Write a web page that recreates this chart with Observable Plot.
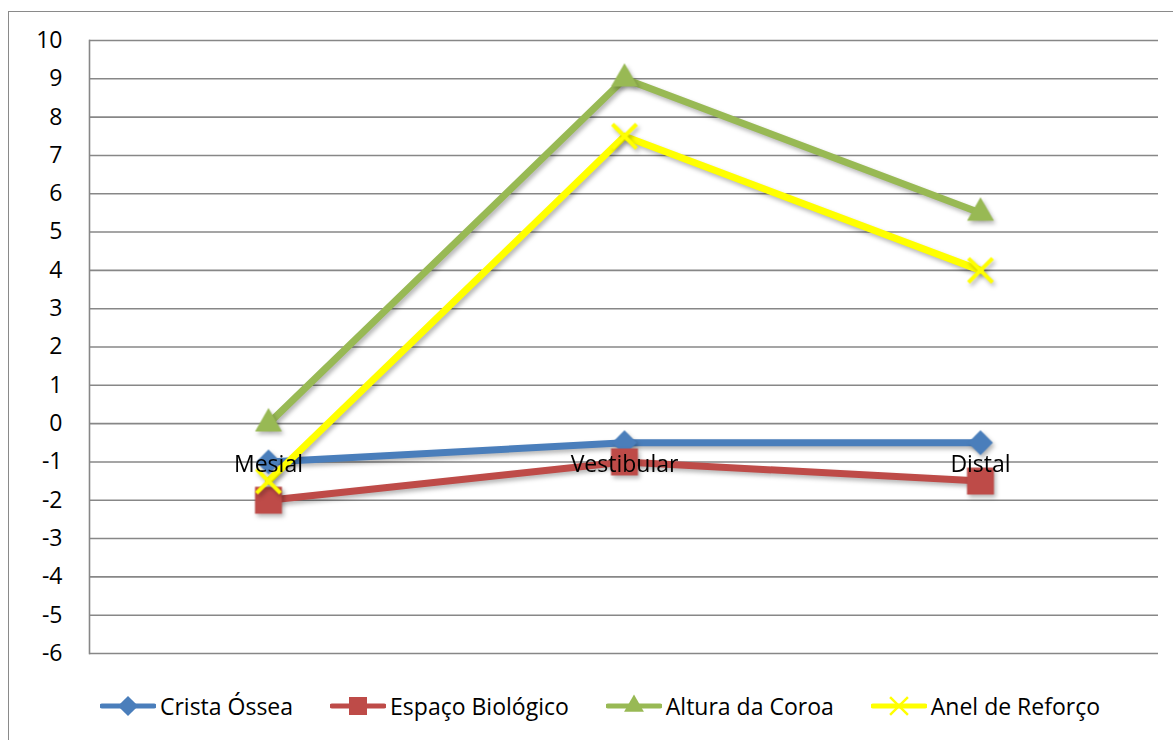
<!DOCTYPE html>
<html>
<head>
<meta charset="utf-8">
<script src="https://cdn.jsdelivr.net/npm/d3@7"></script>
<script src="https://cdn.jsdelivr.net/npm/@observablehq/plot@0.6"></script>
<style>
  body { margin: 0; background: #fff; }
  #chart { position: relative; width: 1173px; height: 740px; overflow: hidden; font-family: "Open Sans", sans-serif; }
  #border { position: absolute; left: 8px; top: 11px; width: 1400px; height: 1000px; border: 1.5px solid #8a8a8a; box-sizing: border-box; }
  #plot { position: absolute; left: 0; top: 0; }
  #legend { position: absolute; left: 0; top: 691px; width: 1200px; height: 30px; display: flex; justify-content: center; align-items: center; gap: 37px; font-size: 23px; color: #000; }
  .item { display: flex; align-items: center; gap: 4px; white-space: nowrap; }
  .item svg { display: block; }
</style>
</head>
<body>
<div id="chart">
  <div id="border"></div>
  <div id="plot"></div>
  <div id="legend"></div>
</div>
<script>
// Measurement sites along the x axis
const categories = ["Mesial", "Vestibular", "Distal"];

// Values per site for each series
const cristaOssea     = [-1, -0.5, -0.5];
const espacoBiologico = [-2, -1, -1.5];
const alturaCoroa     = [0, 9, 5.5];
const anelReforco     = [-1.5, 7.5, 4];

const seriesNames = ["Crista Óssea", "Espaço Biológico", "Altura da Coroa", "Anel de Reforço"];
const seriesValues = [cristaOssea, espacoBiologico, alturaCoroa, anelReforco];
const seriesColors = ["#4a7ebb", "#be4b48", "#98b954", "#ffff00"];

// Value axis ticks
const yTicks = [-6, -5, -4, -3, -2, -1, 0, 1, 2, 3, 4, 5, 6, 7, 8, 9, 10];

// Marker styles for each series
const markerStyles = [
  {symbol: "diamond2", r: 11.2, fill: seriesColors[0], stroke: "none"},
  {symbol: "square", r: 15.2, fill: seriesColors[1], stroke: "none"},
  {symbol: "triangle", r: 10, fill: seriesColors[2], stroke: "none"},
  {symbol: "times", r: 11, fill: "none", stroke: seriesColors[3], strokeWidth: 4}
];

const rows = seriesNames.map((name, i) =>
  categories.map((c, j) => ({series: name, category: c, value: seriesValues[i][j]}))
);

const shadow = "drop-shadow(2px 3px 2px rgba(0,0,0,0.28))";

const seriesMarks = rows.flatMap((data, i) => [
  Plot.line(data, {
    x: "category", y: "value",
    stroke: seriesColors[i], strokeWidth: 7,
    strokeLinejoin: "round", strokeLinecap: "round",
    imageFilter: shadow
  }),
  Plot.dot(data, {
    x: "category", y: "value",
    ...markerStyles[i],
    imageFilter: shadow
  })
]);

const chart = Plot.plot({
  width: 1173,
  height: 680,
  marginLeft: 89,
  marginRight: 15,
  marginTop: 40,
  marginBottom: 27,
  style: {fontFamily: "'Open Sans', sans-serif", fontSize: "23px", color: "#000", background: "transparent", overflow: "visible"},
  x: {type: "point", domain: categories, padding: 0.5, axis: null},
  y: {domain: [-6, 10], axis: null},
  marks: [
    Plot.ruleY(yTicks, {stroke: "#878787", strokeWidth: 1.6}),
    Plot.frame({anchor: "left", stroke: "#878787", strokeWidth: 1.6}),
    Plot.axisY({ticks: yTicks, label: null, tickSize: 0, tickPadding: 27, fontSize: 23, fill: "#000", tickFormat: d => String(d).replace("−", "-")}),
    ...seriesMarks,
    // Category labels sit just below the zero line, where the category axis crosses
    Plot.text(categories, {x: d => d, y: () => 0, dy: 41, fontSize: 23, fill: "#000", textAnchor: "middle"})
  ]
});
document.getElementById("plot").appendChild(chart);

// Legend: line with marker, then the series name
const legend = d3.select("#legend");
seriesNames.forEach((name, i) => {
  const item = legend.append("div").attr("class", "item");
  const svg = item.append("svg").attr("width", 56).attr("height", 30);
  svg.append("line")
    .attr("x1", 2).attr("x2", 54).attr("y1", 15).attr("y2", 15)
    .attr("stroke", seriesColors[i]).attr("stroke-width", 5).attr("stroke-linecap", "round");
  const symbols = [d3.symbolDiamond2, d3.symbolSquare, d3.symbolTriangle, d3.symbolTimes];
  const sizes = [260, 324, 170, 210];
  const path = svg.append("path")
    .attr("transform", "translate(28,15)")
    .attr("d", d3.symbol(symbols[i], sizes[i])());
  if (i === 3) path.attr("fill", "none").attr("stroke", seriesColors[i]).attr("stroke-width", 2.5);
  else path.attr("fill", seriesColors[i]);
  item.append("span").text(name);
});
</script>
</body>
</html>
